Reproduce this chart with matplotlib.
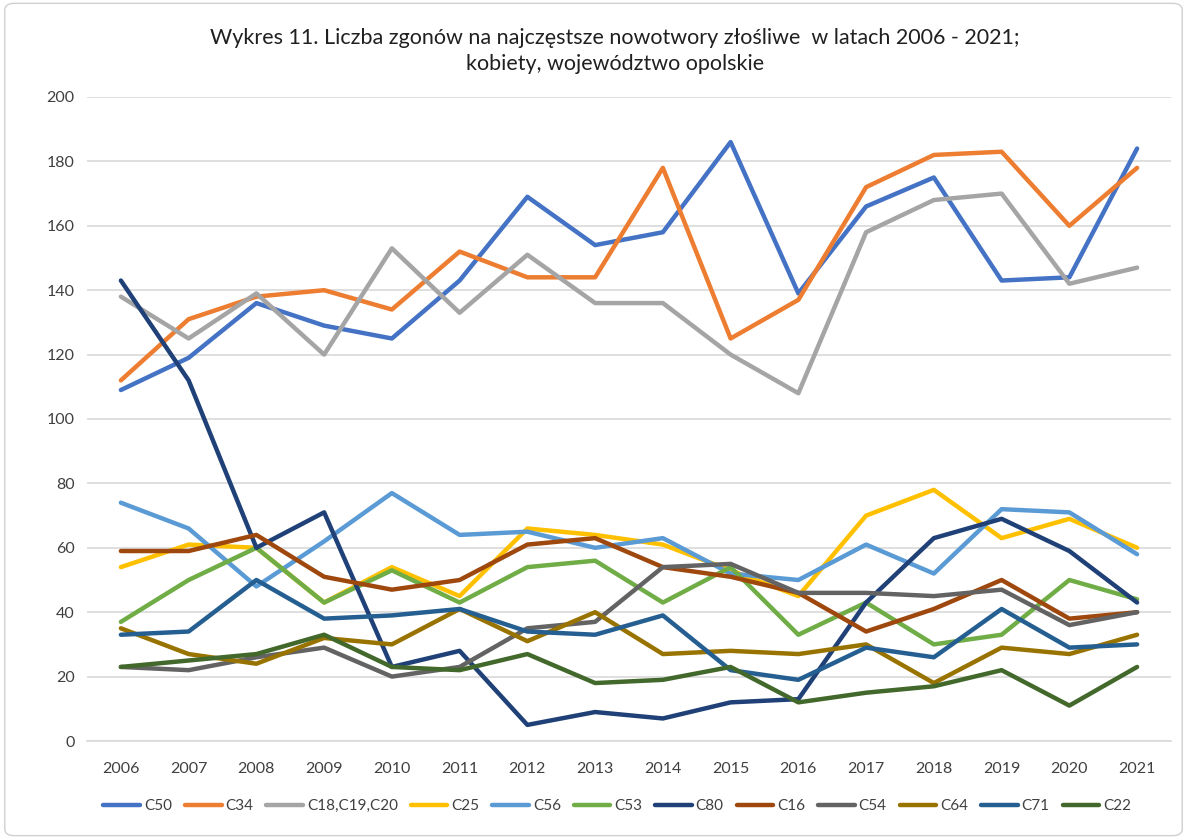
import matplotlib
matplotlib.use("Agg")
import matplotlib.pyplot as plt
from matplotlib.patches import FancyBboxPatch

years = [str(y) for y in range(2006, 2022)]

series_names = ["C50", "C34", "C18,C19,C20", "C25", "C56", "C53", "C80", "C16", "C54", "C64", "C71", "C22"]
C50 = [109, 119, 136, 129, 125, 143, 169, 154, 158, 186, 139, 166, 175, 143, 144, 184]
C34 = [112, 131, 138, 140, 134, 152, 144, 144, 178, 125, 137, 172, 182, 183, 160, 178]
C18 = [138, 125, 139, 120, 153, 133, 151, 136, 136, 120, 108, 158, 168, 170, 142, 147]
C25 = [54, 61, 60, 43, 54, 45, 66, 64, 61, 53, 45, 70, 78, 63, 69, 60]
C56 = [74, 66, 48, 62, 77, 64, 65, 60, 63, 52, 50, 61, 52, 72, 71, 58]
C53 = [37, 50, 60, 43, 53, 43, 54, 56, 43, 54, 33, 43, 30, 33, 50, 44]
C80 = [143, 112, 60, 71, 23, 28, 5, 9, 7, 12, 13, 43, 63, 69, 59, 43]
C16 = [59, 59, 64, 51, 47, 50, 61, 63, 54, 51, 46, 34, 41, 50, 38, 40]
C54 = [23, 22, 26, 29, 20, 23, 35, 37, 54, 55, 46, 46, 45, 47, 36, 40]
C64 = [35, 27, 24, 32, 30, 41, 31, 40, 27, 28, 27, 30, 18, 29, 27, 33]
C71 = [33, 34, 50, 38, 39, 41, 34, 33, 39, 22, 19, 29, 26, 41, 29, 30]
C22 = [23, 25, 27, 33, 23, 22, 27, 18, 19, 23, 12, 15, 17, 22, 11, 23]

values = [C50, C34, C18, C25, C56, C53, C80, C16, C54, C64, C71, C22]
colors = ["#4472C4", "#ED7D31", "#A5A5A5", "#FFC000", "#5B9BD5", "#70AD47",
          "#1F4178", "#9E480E", "#636363", "#997300", "#255E91", "#43682B"]

plt.rcParams['font.family'] = ['Lato', 'DejaVu Sans']

fig = plt.figure(figsize=(11.87, 8.39), dpi=100)
ax = fig.add_axes([0.0733, 0.1168, 0.9132, 0.7676])

x = list(range(len(years)))
for name, vals, c in zip(series_names, values, colors):
    ax.plot(x, vals, color=c, lw=3.2, label=name, solid_capstyle='round', solid_joinstyle='round')

ax.set_xlim(-0.5, len(years) - 0.5)
ax.set_ylim(0, 200)
ax.set_yticks(range(0, 201, 20))
ax.set_xticks(x)
ax.set_xticklabels(years)
ax.grid(axis='y', color='#D9D9D9', lw=1.2)
ax.set_axisbelow(True)
for s in ['top', 'right', 'left']:
    ax.spines[s].set_visible(False)
ax.spines['bottom'].set_color('#D9D9D9')
ax.spines['bottom'].set_linewidth(1.2)
ax.tick_params(axis='both', length=0, labelsize=11.5, colors='#404040', pad=9)
ax.tick_params(axis='x', pad=15)

fig.suptitle("Wykres 11. Liczba zgonów na najczęstsze nowotwory złośliwe  w latach 2006 - 2021;\nkobiety, województwo opolskie",
             x=0.518, y=0.967, fontsize=15.5, color='#202020', linespacing=1.4)

leg = fig.legend(loc='center', bbox_to_anchor=(0.52, 0.039), ncol=12, frameon=False,
                 fontsize=11, handlelength=2.4, handletextpad=0.25, columnspacing=0.85)
for t in leg.get_texts():
    t.set_color('#404040')

border = FancyBboxPatch((0.004, 0.004), 0.992, 0.992, boxstyle="round,pad=0,rounding_size=0.008",
                        transform=fig.transFigure, fill=False, edgecolor='#D0D0D0', lw=1.0)
fig.patches.append(border)

fig.savefig("out.png", dpi=100)
